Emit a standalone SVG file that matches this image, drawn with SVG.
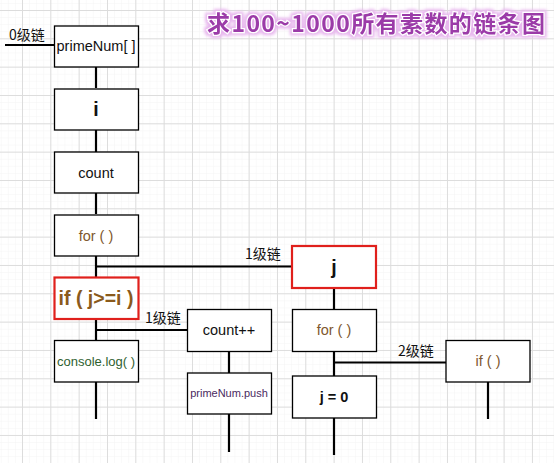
<svg xmlns="http://www.w3.org/2000/svg" width="554" height="463" viewBox="0 0 554 463">
<defs>
<pattern id="minor" x="-6.33" y="10" width="7.083" height="7.083" patternUnits="userSpaceOnUse">
<path d="M0 0H7.083M0 0V7.083" stroke="#f4f4f4" stroke-width="1" fill="none"/>
</pattern>
<pattern id="major" x="-6.33" y="10" width="28.33" height="28.33" patternUnits="userSpaceOnUse">
<path d="M0 0.5H28.33M0.5 0V28.33" stroke="#dcdcdc" stroke-width="1" fill="none"/>
</pattern>
<filter id="glow" x="-10%" y="-40%" width="120%" height="180%">
<feMorphology in="SourceAlpha" operator="dilate" radius="2" result="d"/>
<feGaussianBlur in="d" stdDeviation="1.5" result="b"/>
<feFlood flood-color="#e8b8ee"/>
<feComposite in2="b" operator="in" result="g"/>
<feMerge><feMergeNode in="g"/><feMergeNode in="SourceGraphic"/></feMerge>
</filter>
</defs>
<style>
.box{fill:#fff;stroke:#000;stroke-width:1.3}
.red{fill:#fff;stroke:#e0201c;stroke-width:2.2}
.t{font-family:"Liberation Sans","Noto Sans CJK SC",sans-serif;font-size:14.5px;text-anchor:middle;fill:#111}
.lbl{font-family:"Noto Sans CJK SC","Liberation Sans",sans-serif;font-size:14px;fill:#111}
.b{font-weight:bold}
.brown{fill:#80582f}
.conn line{stroke:#000;stroke-width:2.2}
</style>
<rect width="554" height="463" fill="#fff"/>
<rect width="554" height="463" fill="url(#minor)"/>
<rect width="554" height="463" fill="url(#major)"/>

<text x="207" y="32" textLength="338" lengthAdjust="spacing" filter="url(#glow)" style="font-family:'Noto Sans CJK SC',sans-serif;font-size:23px;font-weight:bold;fill:#9b3aa8;stroke:#fff;stroke-width:2.5;paint-order:stroke">求100~1000所有素数的链条图</text>

<g class="conn">
<line x1="5" y1="45" x2="54" y2="45"/>
<line x1="96" y1="67" x2="96" y2="88"/>
<line x1="96" y1="130" x2="96" y2="152"/>
<line x1="96" y1="193" x2="96" y2="214"/>
<line x1="96" y1="256" x2="96" y2="277"/>
<line x1="96" y1="319" x2="96" y2="340"/>
<line x1="96" y1="382" x2="96" y2="419"/>
<line x1="96" y1="266.5" x2="292" y2="266.5"/>
<line x1="96" y1="330" x2="187" y2="330"/>
<line x1="229" y1="352" x2="229" y2="373"/>
<line x1="229" y1="414" x2="229" y2="452"/>
<line x1="334" y1="288" x2="334" y2="309"/>
<line x1="334" y1="352" x2="334" y2="376"/>
<line x1="334" y1="418" x2="334" y2="455"/>
<line x1="334" y1="362.5" x2="446" y2="362.5"/>
<line x1="488" y1="382" x2="488" y2="419"/>
</g>

<text class="lbl" x="9" y="40">0级链</text>
<text class="lbl" x="245" y="259">1级链</text>
<text class="lbl" x="145" y="323">1级链</text>
<text class="lbl" x="398" y="356">2级链</text>

<g id="primeNum"><rect class="box" x="54.5" y="26" width="84" height="41"/><text class="t" x="96" y="51">primeNum[ ]</text></g>
<g id="i"><rect class="box" x="54.5" y="89" width="84" height="41"/><text class="t b" x="96" y="116" style="font-size:19.5px">i</text></g>
<g id="count"><rect class="box" x="54.5" y="152" width="84" height="41"/><text class="t" x="96" y="178">count</text></g>
<g id="for1"><rect class="box" x="54.5" y="215" width="84" height="41"/><text class="t brown" x="96" y="241">for ( )</text></g>
<g id="if1"><rect class="red" x="54.5" y="277.5" width="84" height="41.5"/><text class="t b" x="96" y="305" style="font-size:19.5px;fill:#8a5a1c">if ( j&gt;=i )</text></g>
<g id="console"><rect class="box" x="54.5" y="340.5" width="84" height="41.5"/><text class="t" x="96" y="366" style="font-size:13px;fill:#2f5f2f">console.log( )</text></g>
<g id="countpp"><rect class="box" x="187.5" y="309.5" width="84" height="42"/><text class="t" x="229" y="335">count++</text></g>
<g id="push"><rect class="box" x="187.5" y="373" width="84" height="41"/><text class="t" x="229" y="397" style="font-size:11px;fill:#4a2a5e">primeNum.push</text></g>
<g id="j"><rect class="red" x="292" y="246" width="84" height="42"/><text class="t b" x="334" y="274" style="font-size:19.5px">j</text></g>
<g id="for2"><rect class="box" x="292.5" y="309.5" width="84" height="42"/><text class="t brown" x="334" y="335">for ( )</text></g>
<g id="j0"><rect class="box" x="292.5" y="376" width="84" height="42"/><text class="t b" x="334" y="402">j = 0</text></g>
<g id="if2"><rect class="box" x="446" y="340.5" width="84" height="41.5"/><text class="t brown" x="488" y="366">if ( )</text></g>
</svg>
